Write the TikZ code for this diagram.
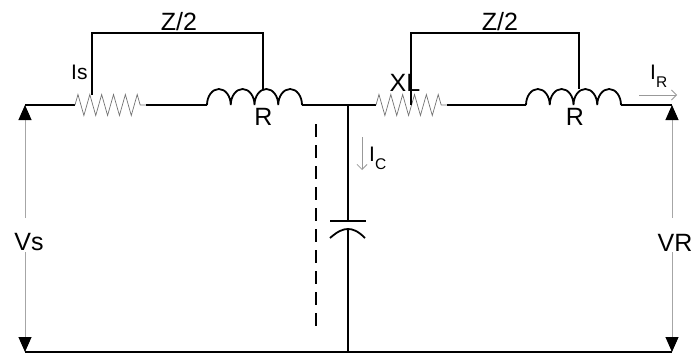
\documentclass[tikz,border=0pt]{standalone}
\usepackage{fontspec}
\setmainfont{Liberation Sans}
\usetikzlibrary{arrows.meta,decorations.pathmorphing}
\tikzset{
    wire/.style={line width=1.8pt},
    lead/.style={line width=1.4pt},
    zigzagwire/.style={line width=0.7pt,black!55,decorate,decoration={zigzag,segment length=11.85pt,amplitude=10.5pt}},
    volt/.style={line width=1pt,black!35},
    tipped/.style={-{Triangle[black,length=15pt,width=13pt]}},
    current/.style={line width=0.8pt,black!40,-{Straight Barb[length=5pt,width=10pt]}},
    lbl/.style={font=\fontsize{25}{25}\selectfont,inner sep=0pt,anchor=base},
    smalllbl/.style={font=\fontsize{21}{21}\selectfont,inner sep=0pt,anchor=base west}
}
\newcommand{\lowsub}[1]{\raisebox{-8pt}{\fontsize{15.5}{15.5}\selectfont #1}}
\begin{document}
\begin{tikzpicture}[x=1pt,y=-1pt]
\useasboundingbox (0,0) rectangle (694,353);

%%% CORNERS %%%
\coordinate (topL) at (25,105);
\coordinate (topR) at (672,105);
\coordinate (botL) at (25,352);
\coordinate (botR) at (672,352);
\coordinate (midT) at (348,105);
\coordinate (midB) at (348,352);

%%% LEFT BRANCH %%%
\coordinate (resLa) at (75,105);
\coordinate (resLb) at (146,105);
\coordinate (indLa) at (207,105);
\coordinate (indLb) at (302,105);
\draw[wire] (topL) -- (resLa);
\draw[zigzagwire] (resLa) -- (resLb);
\draw[wire] (resLb) -- (indLa);
\draw[wire] (indLa)
\foreach \n in {1,...,4}{ arc[start angle=180,end angle=0,x radius=11.875pt,y radius=16pt] };
\draw[wire] (indLb) -- (midT);

%%% RIGHT BRANCH %%%
\coordinate (resRa) at (376,105);
\coordinate (resRb) at (447,105);
\coordinate (indRa) at (526,105);
\coordinate (indRb) at (621,105);
\draw[wire] (midT) -- (resRa);
\draw[zigzagwire] (resRa) -- (resRb);
\draw[wire] (resRb) -- (indRa);
\draw[wire] (indRa)
\foreach \n in {1,...,4}{ arc[start angle=180,end angle=0,x radius=11.875pt,y radius=16pt] };
\draw[wire] (indRb) -- (topR);

%%% Z/2 BRACKETS %%%
\draw[wire] (92,95) |- (263,33) -- (263,89);
\draw[wire] (411,105) |- (579,33) -- (579,89);
\node[lbl] (zL) at (179,31) {Z/2};
\node[lbl] (zR) at (500,31) {Z/2};

%%% CAPACITOR %%%
\coordinate (capT) at (348,221);
\coordinate (capB) at (348,229);
\draw[wire] (midT) -- (348,148);
\draw[lead] (348,148) -- (capT);
\draw[wire] (330,221) -- (366,221);
\draw[wire] (330,238) .. controls (338,231) and (343,229) .. (capB) .. controls (353,229) and (358,231) .. (365,238);
\draw[lead] (capB) -- (348,310);
\draw[wire] (348,310) -- (midB);
\draw[wire,dash pattern=on 13pt off 8pt] (316,124) -- (316,326);

%%% BOTTOM %%%
\draw[wire] (botL) -- (botR);

%%% VOLTAGES %%%
\draw[volt,tipped] (25,218) -- (topL);
\draw[volt,tipped] (25,252) -- (botL);
\draw[volt,tipped] (672,218) -- (topR);
\draw[volt,tipped] (672,252) -- (botR);
\node[lbl] (vs) at (29,250) {Vs};
\node[lbl] (vr) at (675,251) {VR};

%%% CURRENTS %%%
\draw[current] (639,95) -- (677,95);
\draw[current] (362,137) -- (362,170);
\node[smalllbl] (is) at (71,80) {Is};
\node[smalllbl] (ir) at (650,80) {I\lowsub{R}};
\node[smalllbl] (ic) at (369,161) {I\lowsub{C}};

%%% THINGS WHICH MUST BE ON TOP %%%
\node[lbl] (rL) at (263.5,125) {R};
\node[lbl] (rR) at (575,125) {R};
\node[lbl] (xl) at (405,92) {XL};

\end{tikzpicture}
\end{document}
